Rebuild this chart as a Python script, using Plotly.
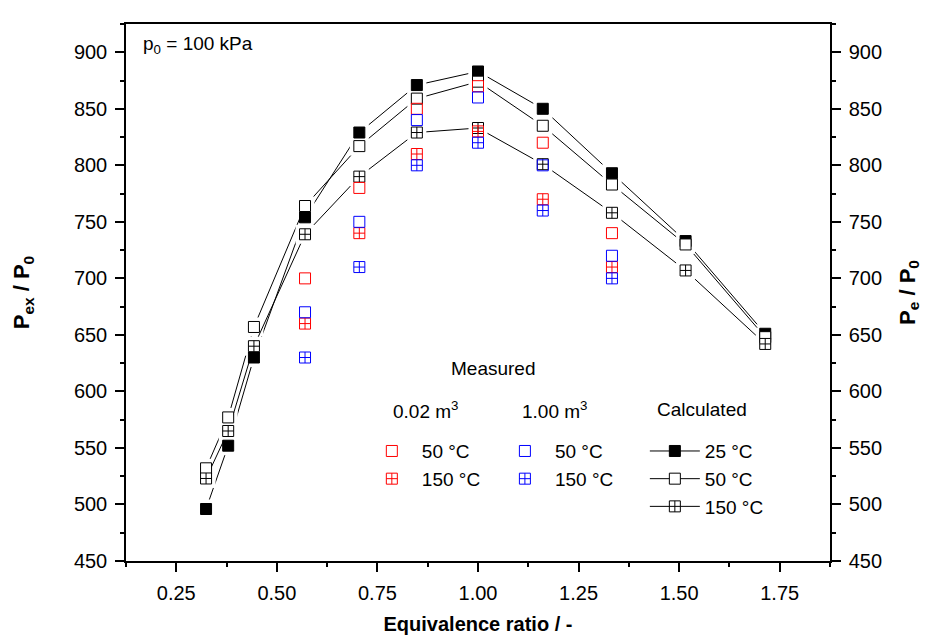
import plotly.graph_objects as go

# ---------------- data ----------------
phi = [0.324, 0.379, 0.443, 0.570, 0.705, 0.848, 1.000, 1.161, 1.333, 1.516, 1.714]
calc_25 = [496, 552, 630, 754, 829, 871, 883, 850, 793, 733, 651]
calc_50 = [532, 577, 657, 764, 817, 859, 874, 835, 783, 730, 648]
calc_150 = [523, 565, 640, 739, 790, 829, 833, 801, 758, 707, 642]

phi_meas = [0.570, 0.705, 0.848, 1.000, 1.161, 1.333]
v002_50 = [700, 780, 850, 870, 820, 740]
v002_150 = [660, 740, 810, 830, 770, 710]
v100_50 = [670, 750, 840, 860, 800, 720]
v100_150 = [630, 710, 800, 820, 760, 700]

x_ticks = [0.25, 0.50, 0.75, 1.00, 1.25, 1.50, 1.75]
y_ticks = [450, 500, 550, 600, 650, 700, 750, 800, 850, 900]

FONT = "Liberation Sans, Arial, sans-serif"
RED = "#ff0000"
BLUE = "#0000ff"
MS = 11

fig = go.Figure()

calc = [
    ("25 °C", calc_25, "square", "black"),
    ("50 °C", calc_50, "square", "white"),
    ("150 °C", calc_150, "square-cross", "white"),
]

# lines with white gap patches around each calculated point
for name, ys, sym, fill in calc:
    fig.add_trace(go.Scatter(
        x=phi, y=ys, mode="lines+markers",
        line=dict(color="black", width=1),
        marker=dict(symbol="square", size=MS + 8, color="white", line=dict(width=0)),
        showlegend=False, hoverinfo="skip"))

# calculated markers
for name, ys, sym, fill in calc:
    fig.add_trace(go.Scatter(
        x=phi, y=ys, mode="markers",
        marker=dict(symbol=sym, size=MS, color=fill, line=dict(color="black", width=1)),
        showlegend=False, name=name))

# measured
meas = [
    ("50 °C", v002_50, "square-open", RED, "legend"),
    ("150 °C", v002_150, "square-cross-open", RED, "legend"),
    ("50 °C", v100_50, "square-open", BLUE, "legend2"),
    ("150 °C", v100_150, "square-cross-open", BLUE, "legend2"),
]
for name, ys, sym, col, lg in meas:
    fig.add_trace(go.Scatter(
        x=phi_meas, y=ys, mode="markers", name=name,
        marker=dict(symbol=sym, size=MS, color=col, line=dict(color=col, width=1)),
        legend=lg))

# legend entries for calculated series
for name, ys, sym, fill in calc:
    fig.add_trace(go.Scatter(
        x=[None], y=[None], mode="lines+markers", name=name,
        line=dict(color="black", width=1),
        marker=dict(symbol=sym, size=MS, color=fill, line=dict(color="black", width=1)),
        legend="legend3"))

# invisible trace for the right axis
fig.add_trace(go.Scatter(x=phi, y=calc_25, yaxis="y2", mode="markers",
                         marker=dict(opacity=0), showlegend=False, hoverinfo="skip"))

axis_common = dict(
    showgrid=False, zeroline=False, showline=True, linecolor="black", linewidth=1.5,
    ticks="outside", ticklen=9, tickwidth=1.5, tickcolor="black",
    tickfont=dict(family=FONT, size=20, color="black"), automargin=False,
    ticklabelstandoff=4,
)

fig.update_layout(
    width=932, height=641,
    margin=dict(l=118, r=110, t=16, b=88),
    paper_bgcolor="white", plot_bgcolor="white",
    font=dict(family=FONT, size=19, color="black"),
    xaxis=dict(
        **axis_common, range=[0.125, 1.875], tickvals=x_ticks, tickformat=".2f",
        mirror=True,
        minor=dict(dtick=0.125, tick0=0.125, ticks="outside", ticklen=4, tickwidth=1.5, tickcolor="black"),
        title=dict(text="<b>Equivalence ratio / -</b>", font=dict(family=FONT, size=20), standoff=14),
    ),
    yaxis=dict(
        **axis_common, range=[450, 925], tickvals=y_ticks,
        minor=dict(dtick=25, tick0=450, ticks="outside", ticklen=4, tickwidth=1.5, tickcolor="black"),
        title=dict(text="<b>P<sub>ex</sub> / P<sub>0</sub></b>", font=dict(family=FONT, size=22), standoff=38),
    ),
    yaxis2=dict(
        **axis_common, range=[450, 925], tickvals=y_ticks, overlaying="y", side="right",
        matches="y",
        minor=dict(dtick=25, tick0=450, ticks="outside", ticklen=4, tickwidth=1.5, tickcolor="black"),
        title=dict(text="<b>P<sub>e</sub> / P<sub>0</sub></b>", font=dict(family=FONT, size=22), standoff=18),
    ),
    legend=dict(x=0.335, y=0.240, xanchor="left", yanchor="top", bgcolor="rgba(0,0,0,0)",
                borderwidth=0, itemwidth=50, font=dict(family=FONT, size=19)),
    legend2=dict(x=0.524, y=0.240, xanchor="left", yanchor="top", bgcolor="rgba(0,0,0,0)",
                 borderwidth=0, itemwidth=50, font=dict(family=FONT, size=19)),
    legend3=dict(x=0.737, y=0.240, xanchor="left", yanchor="top", bgcolor="rgba(0,0,0,0)",
                 borderwidth=0, itemwidth=50, font=dict(family=FONT, size=19)),
    annotations=[
        dict(text="Measured", xref="paper", yref="paper", x=0.522, y=0.3594,
             xanchor="center", yanchor="middle", showarrow=False, font=dict(size=19)),
        dict(text="0.02 m<sup>3</sup>", xref="paper", yref="paper", x=0.3764, y=0.2817,
             xanchor="left", yanchor="middle", showarrow=False, font=dict(size=19)),
        dict(text="1.00 m<sup>3</sup>", xref="paper", yref="paper", x=0.5597, y=0.2817,
             xanchor="left", yanchor="middle", showarrow=False, font=dict(size=19)),
        dict(text="Calculated", xref="paper", yref="paper", x=0.7514, y=0.2817,
             xanchor="left", yanchor="middle", showarrow=False, font=dict(size=19)),
        dict(text="p<sub>0</sub> = 100 kPa", xref="paper", yref="paper", x=0.0213, y=0.9615,
             xanchor="left", yanchor="middle", showarrow=False, font=dict(size=19)),
    ],
)

fig.write_html("out.html")
